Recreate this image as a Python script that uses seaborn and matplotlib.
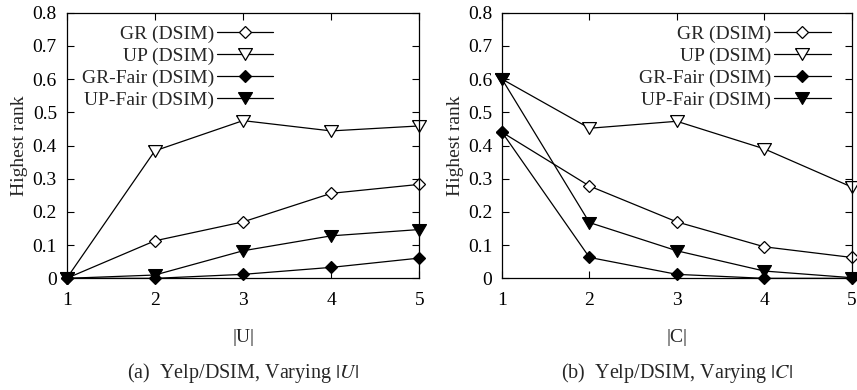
import numpy as np
import pandas as pd
import matplotlib
matplotlib.use("Agg")
import matplotlib.pyplot as plt
import seaborn as sns

x_vals = [1, 2, 3, 4, 5]
series_names = ["GR (DSIM)", "UP (DSIM)", "GR-Fair (DSIM)", "UP-Fair (DSIM)"]

# Panel (a): varying |U|
a_gr = [0.0, 0.113, 0.170, 0.256, 0.283]
a_up = [0.0, 0.384, 0.475, 0.444, 0.459]
a_grfair = [0.0, 0.0, 0.012, 0.033, 0.061]
a_upfair = [0.0, 0.010, 0.083, 0.128, 0.147]

# Panel (b): varying |C|
b_gr = [0.440, 0.278, 0.170, 0.095, 0.063]
b_up = [0.600, 0.452, 0.473, 0.390, 0.275]
b_grfair = [0.440, 0.063, 0.012, 0.0, 0.0]
b_upfair = [0.600, 0.168, 0.083, 0.022, 0.002]

yticks = [0, 0.1, 0.2, 0.3, 0.4, 0.5, 0.6, 0.7, 0.8]
ytick_labels = ["0", "0.1", "0.2", "0.3", "0.4", "0.5", "0.6", "0.7", "0.8"]

sns.set_style("ticks")
plt.rcParams["font.family"] = ["Liberation Serif", "DejaVu Serif"]
plt.rcParams["mathtext.fontset"] = "stix"

tri = [(-1.0, 0.85), (1.0, 0.85), (0.0, -0.85), (-1.0, 0.85)]
styles = {
    "GR (DSIM)": dict(marker="D", mfc="white", ms=6.3),
    "UP (DSIM)": dict(marker=tri, mfc="white", ms=10),
    "GR-Fair (DSIM)": dict(marker="D", mfc="black", ms=6.3),
    "UP-Fair (DSIM)": dict(marker=tri, mfc="black", ms=10),
}

FS = 14

def make_df(vals):
    rows = []
    for name, v in zip(series_names, vals):
        for xx, yy in zip(x_vals, v):
            rows.append({"x": xx, "y": yy, "series": name})
    return pd.DataFrame(rows)

fig = plt.figure(figsize=(8.57, 3.9), dpi=100)
ax1 = fig.add_axes([0.0778, 0.2863, 0.4115, 0.6811])
ax2 = fig.add_axes([0.5858, 0.2863, 0.4080, 0.6811])

panels = [
    (ax1, [a_gr, a_up, a_grfair, a_upfair], "|U|", "(a)  Yelp/DSIM, Varying $|U|$", 0.621),
    (ax2, [b_gr, b_up, b_grfair, b_upfair], "|C|", "(b)  Yelp/DSIM, Varying $|C|$", 0.975),
]

for ax, vals, xl, cap, lx in panels:
    df = make_df(vals)
    for name in series_names:
        sub = df[df["series"] == name]
        st = styles[name]
        sns.lineplot(data=sub, x="x", y="y", ax=ax, color="black", lw=0.9,
                     marker=st["marker"], markersize=st["ms"],
                     markerfacecolor=st["mfc"], markeredgecolor="black",
                     markeredgewidth=0.9, label=name, legend=False, clip_on=False)
    ax.set_xlim(1, 5)
    ax.set_ylim(0, 0.8)
    ax.set_xticks(x_vals)
    ax.set_xticklabels([str(v) for v in x_vals])
    ax.set_yticks(yticks)
    ax.set_yticklabels(ytick_labels)
    ax.tick_params(direction="in", top=True, right=True, length=5, width=0.8,
                   labelsize=FS, colors="black")
    ax.tick_params(axis="x", pad=10)
    ax.tick_params(axis="y", pad=7)
    for s in ax.spines.values():
        s.set_linewidth(0.9)
        s.set_color("black")
    ax.set_ylabel("Highest rank", fontsize=FS)
    ax.yaxis.set_label_coords(-0.133, 0.5)
    ax.yaxis.label.set_va("center")
    ax.set_xlabel(xl, fontsize=FS)
    ax.xaxis.set_label_coords(0.5, -0.223)
    ax.xaxis.label.set_va("center")
    ax.text(0.5, -0.355, cap, transform=ax.transAxes, ha="center", va="center", fontsize=14.5)
    leg = ax.legend(loc="upper right", bbox_to_anchor=(lx, 1.0), frameon=False,
                    markerfirst=False, fontsize=FS, handlelength=2.9,
                    handletextpad=0.15, labelspacing=0.23, borderaxespad=0.0,
                    borderpad=0.64)
    for t in leg.get_texts():
        t.set_ha("right")

fig.savefig("out.png", dpi=100)
